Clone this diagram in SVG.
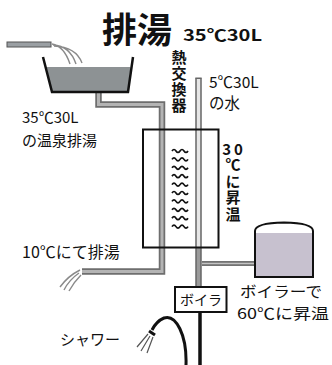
<svg xmlns="http://www.w3.org/2000/svg" width="332" height="365" viewBox="0 0 332 365">
  <defs>
    <style>
      .t { font-family: "Noto Sans CJK JP", "Noto Sans", sans-serif; fill: #111; }
      .b { font-weight: 700; }
      .v { writing-mode: vertical-rl; text-orientation: upright; }
      .outline { fill: none; stroke: #111; stroke-width: 2; }
      .pipe-o { fill: none; stroke: #6e6e6e; stroke-width: 6.5; stroke-linejoin: miter; }
      .pipe-i { fill: none; stroke: #b4b4b4; stroke-width: 3; stroke-linejoin: miter; }
      .stream { fill: none; stroke: #8a8a8a; stroke-width: 1.4; }
    </style>
    <path id="w" d="M0,0 q2,-3 4,0 t4,0 t4,0 t4,0" fill="none" stroke="#111" stroke-width="1.7"/>
  </defs>

  <rect width="332" height="365" fill="#fff"/>

  <!-- title -->
  <text class="t b" x="102" y="43" font-size="35">排湯</text>
  <text class="t b" x="183" y="41" font-size="16" textLength="79" lengthAdjust="spacingAndGlyphs">35℃30L</text>

  <g id="connectors">
    <!-- supply pipe over the tub -->
    <rect x="7" y="42" width="44" height="5" fill="#9a9fa3" stroke="#555" stroke-width="1"/>
    <path class="stream" d="M52,44 Q64,46 70,64 M53,45 Q70,46 76,64 M54,46 Q76,47 82,63"/>

    <!-- drain: tub to heat exchanger and out -->
    <path class="pipe-o" d="M98.5,92 V104.5 H162 V271.5 H82"/>
    <path class="pipe-i" d="M98.5,92 V104.5 H162 V271.5 H82"/>
    <path class="stream" d="M80,270 Q68,276 60,287 M79,273 Q69,280 64,290 M81,275 Q74,282 69,291"/>

    <!-- cold water line through the exchanger to the boiler -->
    <path d="M198.5,78 V287" fill="none" stroke="#666" stroke-width="6.5"/>
    <path d="M198.5,79 V248" fill="none" stroke="#e6e6e6" stroke-width="3.5"/>
    <path d="M198.5,248 V287" fill="none" stroke="#9a9a9a" stroke-width="3.5"/>
    <path d="M195.3,78 H201.7" stroke="#666" stroke-width="1"/>

    <!-- branch to the tank -->
    <path d="M202,263.5 H256" stroke="#444" stroke-width="4.5"/>
    <path d="M202,263.5 H256" stroke="#c4c4c4" stroke-width="1.8"/>

    <!-- boiler outlet -->
    <path d="M200,312 V365" stroke="#111" stroke-width="3.5"/>
  </g>

  <g id="tub">
    <path d="M46.5,67 H130.5 L128,92 H52 Z" fill="#8d9294"/>
    <path d="M43,57 L52,92 H128 L133,57" fill="none" stroke="#111" stroke-width="2.5" stroke-linejoin="miter"/>
    <text class="t" x="22" y="123" font-size="15">35℃30L</text>
    <text class="t" x="22" y="146" font-size="15">の温泉排湯</text>
  </g>

  <g id="heat-exchanger">
    <rect class="outline" x="143" y="129.5" width="75.5" height="118"/>
    <use href="#w" x="172" y="151"/>
    <use href="#w" x="172" y="159.4"/>
    <use href="#w" x="172" y="167.8"/>
    <use href="#w" x="172" y="176.2"/>
    <use href="#w" x="172" y="184.6"/>
    <use href="#w" x="172" y="193"/>
    <use href="#w" x="172" y="201.4"/>
    <use href="#w" x="172" y="209.8"/>
    <use href="#w" x="172" y="218.2"/>
    <use href="#w" x="172" y="226.6"/>
    <text class="t b v" x="179" y="50" font-size="15" letter-spacing="1">熱交換器</text>
    <text class="t" x="209" y="88" font-size="15.5">5℃30L</text>
    <text class="t" x="209" y="109" font-size="15.5">の水</text>
    <text class="t b" x="234" y="155" font-size="15" text-anchor="middle" letter-spacing="3">30</text>
    <text class="t b v" x="233" y="157" font-size="15" letter-spacing="1.5">℃に昇温</text>
    <text class="t" x="22" y="258" font-size="16" fill="#333">10℃にて排湯</text>
  </g>

  <g id="tank">
    <path d="M255.5,233 H312.5 V277 H255.5 Z" fill="#c7c1cf"/>
    <path d="M255,277 V231 Q255,223 284,222.5 Q313,223 313,231 V277 Z" fill="none" stroke="#111" stroke-width="2"/>
  </g>

  <g id="boiler">
    <rect class="outline" x="175" y="287" width="51.5" height="25" fill="#fff"/>
    <text class="t" x="201" y="305" font-size="14" text-anchor="middle">ボイラ</text>
    <text class="t" x="240" y="297" font-size="15" textLength="82" lengthAdjust="spacingAndGlyphs">ボイラーで</text>
    <text class="t" x="237" y="319" font-size="15" textLength="92" lengthAdjust="spacingAndGlyphs">60℃に昇温</text>
  </g>

  <g id="shower">
    <path d="M186,365 C187,335 176,314 164,318 C157,321 154,326 152,330" fill="none" stroke="#111" stroke-width="3"/>
    <path d="M149,331 L155,335" stroke="#111" stroke-width="3"/>
    <path d="M148,334 L137,347 M150,336 L141,351 M153,337 L147,353" stroke="#555" stroke-width="1.2"/>
    <text class="t" x="60" y="345" font-size="15">シャワー</text>
  </g>
</svg>
